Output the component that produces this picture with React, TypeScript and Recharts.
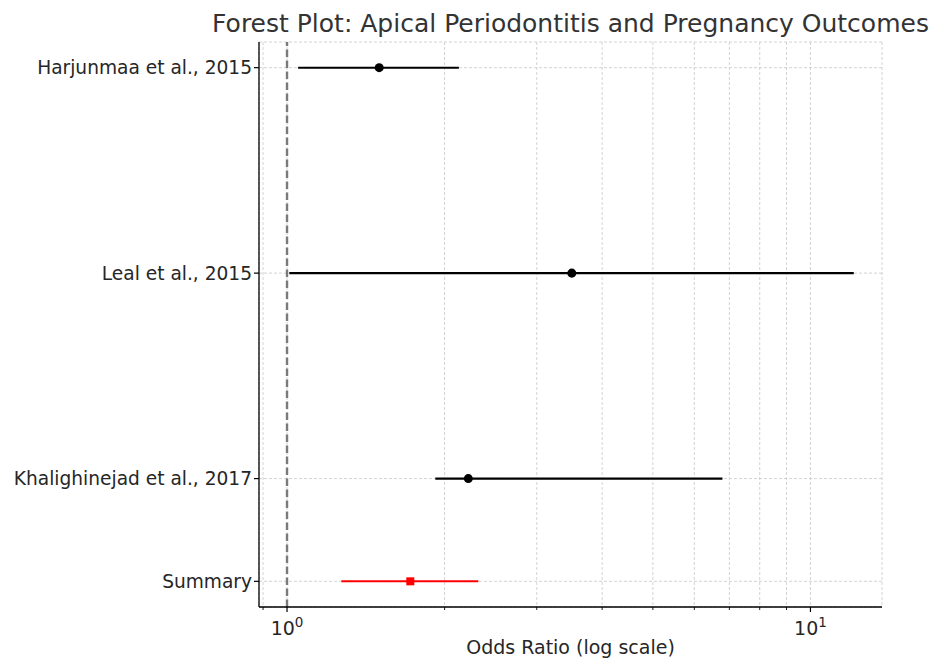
import React from 'react';
import {
  ScatterChart,
  Scatter,
  XAxis,
  YAxis,
  ZAxis,
  CartesianGrid,
  ErrorBar,
  ReferenceLine,
} from 'recharts';

// Study rows (top to bottom) and the pooled summary
const studyNames = ['Harjunmaa et al., 2015', 'Leal et al., 2015', 'Khalighinejad et al., 2017'];
const studyRows = [3, 2, 1];
const studyOR = [1.5, 3.5, 2.22];
const studyLower = [1.05, 1.01, 1.92];
const studyUpper = [2.13, 12.1, 6.79];

const summaryName = 'Summary';
const summaryRow = 0.5;
const summaryOR = 1.72;
const summaryLower = 1.27;
const summaryUpper = 2.32;

// Log-axis ticks: labelled decades plus the minor ticks in between
const majorTicks = [1, 10];
const xTicks = [0.9, 1, 2, 3, 4, 5, 6, 7, 8, 9, 10];
const xDomain = [0.884, 13.7];
const yTicks = [0.5, 1, 2, 3];

const studyData = studyNames.map((name, i) => ({
  name,
  row: studyRows[i],
  or: studyOR[i],
  err: [studyOR[i] - studyLower[i], studyUpper[i] - studyOR[i]],
}));

const summaryData = [
  {
    name: summaryName,
    row: summaryRow,
    or: summaryOR,
    err: [summaryOR - summaryLower, summaryUpper - summaryOR],
  },
];

const rowLabels: Record<number, string> = {};
studyData.forEach((d) => (rowLabels[d.row] = d.name));
rowLabels[summaryRow] = summaryName;

const FONT = '"DejaVu Sans", sans-serif';
const TEXT = '#262626';

const LogTick = (props: any) => {
  const { x, y, payload } = props;
  const v = payload.value;
  const isMajor = majorTicks.includes(v);
  const exp = Math.round(Math.log10(v));
  return (
    <g>
      <line x1={x} x2={x} y1={y} y2={y + (isMajor ? 5 : 3)} stroke="#000" strokeWidth={isMajor ? 1.2 : 0.9} />
      {isMajor && (
        <text x={x} y={y + 28} textAnchor="middle" fontFamily={FONT} fontSize={19} fill={TEXT}>
          10
          <tspan dy={-8} fontSize={13.5}>
            {exp}
          </tspan>
        </text>
      )}
    </g>
  );
};

export default function App() {
  return (
    <div style={{ position: 'absolute', left: 0, top: 0, width: 936, height: 659, background: '#fff' }}>
      <svg width={936} height={659} style={{ position: 'absolute', left: 0, top: 0, pointerEvents: 'none' }}>
        <text x={570.5} y={32} textAnchor="middle" fontFamily={FONT} fontSize={25} fill="#333">
          Forest Plot: Apical Periodontitis and Pregnancy Outcomes
        </text>
        <text x={570.5} y={654} textAnchor="middle" fontFamily={FONT} fontSize={19} fill={TEXT}>
          Odds Ratio (log scale)
        </text>
      </svg>
      <ScatterChart
        width={936}
        height={659}
        margin={{ top: 42, right: 54, bottom: 0, left: 0 }}
        style={{ position: 'absolute', left: 0, top: 0 }}
      >
        <CartesianGrid stroke="#c8c8c8" strokeDasharray="3 2" strokeWidth={0.8} />
        <XAxis
          type="number"
          dataKey="or"
          scale="log"
          domain={xDomain}
          allowDataOverflow
          ticks={xTicks}
          interval={0}
          height={52}
          tick={<LogTick />}
          tickLine={false}
          tickSize={0}
          tickMargin={0}
          axisLine={{ stroke: '#000', strokeWidth: 1.3 }}
        />
        <YAxis
          type="number"
          dataKey="row"
          domain={[0.375, 3.125]}
          ticks={yTicks}
          interval={0}
          width={259}
          tickFormatter={(v: number) => rowLabels[v] ?? ''}
          tick={{ fontFamily: FONT, fontSize: 18.6, fill: TEXT }}
          tickSize={5}
          tickMargin={2}
          tickLine={{ stroke: '#000', strokeWidth: 1.2 }}
          axisLine={{ stroke: '#000', strokeWidth: 1.3 }}
        />
        <ZAxis zAxisId="study" range={[72, 72]} />
        <ZAxis zAxisId="summary" range={[85, 85]} />
        <ReferenceLine x={1} stroke="#7a7a7a" strokeWidth={2.4} strokeDasharray="7.5 3.5" />
        <Scatter data={studyData} zAxisId="study" fill="#000" shape="circle" isAnimationActive={false}>
          <ErrorBar dataKey="err" direction="x" width={0} stroke="#000" strokeWidth={2.1} isAnimationActive={false} />
        </Scatter>
        <Scatter data={summaryData} zAxisId="summary" fill="#ff0000" shape="square" isAnimationActive={false}>
          <ErrorBar dataKey="err" direction="x" width={0} stroke="#ff0000" strokeWidth={2.1} isAnimationActive={false} />
        </Scatter>
      </ScatterChart>
    </div>
  );
}
